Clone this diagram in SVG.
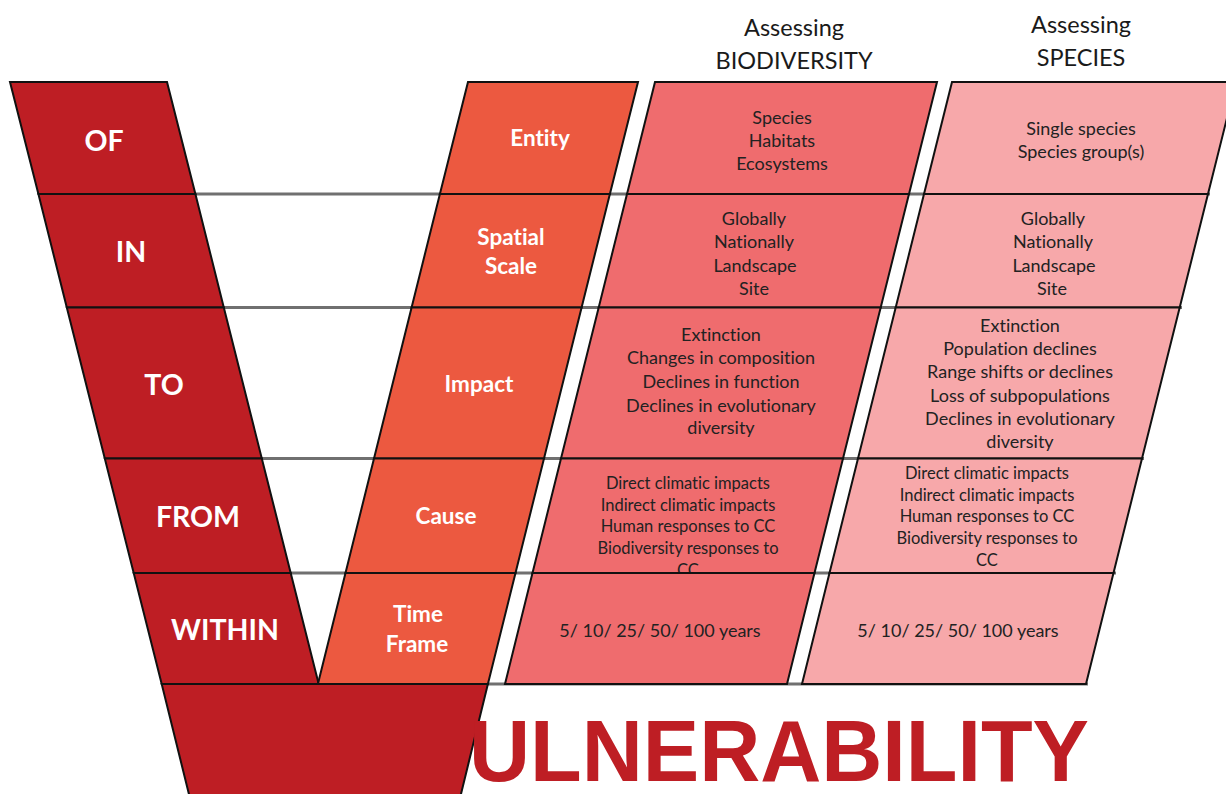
<svg xmlns="http://www.w3.org/2000/svg" width="1226" height="794" viewBox="0 0 1226 794">
<style>
text{font-variant-ligatures:none}
.cell{stroke:#111;stroke-width:2;stroke-linejoin:miter}
.dk{fill:#BE1E24}.or{fill:#EC5940}.bio{fill:#EF6C6E}.sp{fill:#F7A8AA}
.conn{stroke:#707070;stroke-width:3;fill:none}
.big{font-family:Lato,"Open Sans",sans-serif;font-weight:700;font-size:28.5px;fill:#fff;text-anchor:middle}
.mid{font-family:Lato,"Open Sans",sans-serif;font-weight:700;font-size:22.5px;fill:#fff;text-anchor:middle}
.hd{font-family:Lato,"Open Sans",sans-serif;font-size:23.5px;fill:#1a1a1a;text-anchor:middle}
.tx{font-family:Lato,"Open Sans",sans-serif;font-size:18px;fill:#222;text-anchor:middle}
.sm{font-family:Lato,"Open Sans",sans-serif;font-size:16.5px;fill:#222;text-anchor:middle}
.vul{font-family:"Liberation Sans",Arial,sans-serif;font-weight:700;font-size:88px;fill:#BE1E24}
</style>
<defs>
<clipPath id="clipBioCause"><polygon points="560.9,458.5 842.9,458.5 814.5,573 532.5,573"/></clipPath>
</defs>
<rect width="1226" height="794" fill="#fff"/>
<g id="connectors">
<line class="conn" x1="190" y1="194" x2="1210" y2="194"/>
<line class="conn" x1="220" y1="307.5" x2="1182" y2="307.5"/>
<line class="conn" x1="260" y1="458.5" x2="1144" y2="458.5"/>
<line class="conn" x1="288" y1="573" x2="1116" y2="573"/>
<line class="conn" x1="480" y1="684" x2="1088" y2="684"/>
</g>
<g id="v-base">
<polygon class="cell dk" points="161.7,684 487.9,684 460.5,796 189.4,796"/>
</g>
<g id="col-left">
<g id="of"><polygon class="cell dk" points="10,82 167,82 195.4,194 38.4,194"/><text class="big" x="104" y="151">OF</text></g>
<g id="in"><polygon class="cell dk" points="38.4,194 195.4,194 223.8,307.5 66.8,307.5"/><text class="big" x="131" y="262">IN</text></g>
<g id="to"><polygon class="cell dk" points="66.8,307.5 223.8,307.5 261.8,458.5 104.8,458.5"/><text class="big" x="164" y="395">TO</text></g>
<g id="from"><polygon class="cell dk" points="104.8,458.5 261.8,458.5 290.7,573 133.7,573"/><text class="big" x="198" y="527">FROM</text></g>
<g id="within"><polygon class="cell dk" points="133.7,573 290.7,573 318.7,684 161.7,684"/><text class="big" x="225" y="640">WITHIN</text></g>
</g>
<g id="col-criteria">
<g id="entity"><polygon class="cell or" points="468,82 638,82 609.9,194 439.9,194"/><text class="mid" x="540" y="146">Entity</text></g>
<g id="spatial"><polygon class="cell or" points="439.9,194 609.9,194 581.6,307.5 411.6,307.5"/><text class="mid" x="511" y="245">Spatial</text><text class="mid" x="511" y="274">Scale</text></g>
<g id="impact"><polygon class="cell or" points="411.6,307.5 581.6,307.5 544,458.5 374,458.5"/><text class="mid" x="479" y="392">Impact</text></g>
<g id="cause"><polygon class="cell or" points="374,458.5 544,458.5 515.5,573 345.5,573"/><text class="mid" x="446" y="524">Cause</text></g>
<g id="timeframe"><polygon class="cell or" points="345.5,573 515.5,573 487.9,684 317.9,684"/><text class="mid" x="418" y="622">Time</text><text class="mid" x="417" y="652">Frame</text></g>
</g>
<g id="col-biodiversity">
<g id="bio-header"><text class="hd" x="794" y="36">Assessing</text><text class="hd" x="794" y="69">BIODIVERSITY</text></g>
<g id="bio-entity"><polygon class="cell bio" points="655,82 937,82 909,194 627,194"/>
<text class="tx" x="782" y="124">Species</text><text class="tx" x="782" y="147">Habitats</text><text class="tx" x="782" y="170">Ecosystems</text></g>
<g id="bio-spatial"><polygon class="cell bio" points="627,194 909,194 880.7,307.5 598.7,307.5"/>
<text class="tx" x="754" y="225">Globally</text><text class="tx" x="754" y="248">Nationally</text><text class="tx" x="755" y="272">Landscape</text><text class="tx" x="754" y="295">Site</text></g>
<g id="bio-impact"><polygon class="cell bio" points="598.7,307.5 880.7,307.5 843,458.5 561,458.5"/>
<text class="tx" x="721" y="341">Extinction</text><text class="tx" x="721" y="364">Changes in composition</text><text class="tx" x="721" y="388">Declines in function</text><text class="tx" x="721" y="412">Declines in evolutionary</text><text class="tx" x="721" y="434">diversity</text></g>
<g id="bio-cause"><polygon class="cell bio" points="561,458.5 843,458.5 814.5,573 532.5,573"/>
<g clip-path="url(#clipBioCause)"><text class="sm" x="688" y="489">Direct climatic impacts</text><text class="sm" x="688" y="511">Indirect climatic impacts</text><text class="sm" x="688" y="532">Human responses to CC</text><text class="sm" x="688" y="554">Biodiversity responses to</text><text class="sm" x="688" y="576">CC</text></g></g>
<g id="bio-time"><polygon class="cell bio" points="532.5,573 814.5,573 787,684 505,684"/>
<text class="tx" x="660" y="637">5/ 10/ 25/ 50/ 100 years</text></g>
</g>
<g id="col-species">
<g id="sp-header"><text class="hd" x="1081" y="33">Assessing</text><text class="hd" x="1081" y="66">SPECIES</text></g>
<g id="sp-entity"><polygon class="cell sp" points="952,82 1236,82 1208,194 924,194"/>
<text class="tx" x="1081" y="135">Single species</text><text class="tx" x="1081" y="158">Species group(s)</text></g>
<g id="sp-spatial"><polygon class="cell sp" points="924,194 1208,194 1179.7,307.5 895.7,307.5"/>
<text class="tx" x="1053" y="225">Globally</text><text class="tx" x="1053" y="248">Nationally</text><text class="tx" x="1054" y="272">Landscape</text><text class="tx" x="1052" y="295">Site</text></g>
<g id="sp-impact"><polygon class="cell sp" points="895.7,307.5 1179.7,307.5 1142,458.5 858,458.5"/>
<text class="tx" x="1020" y="332">Extinction</text><text class="tx" x="1020" y="355">Population declines</text><text class="tx" x="1020" y="378">Range shifts or declines</text><text class="tx" x="1020" y="402">Loss of subpopulations</text><text class="tx" x="1020" y="425">Declines in evolutionary</text><text class="tx" x="1020" y="448">diversity</text></g>
<g id="sp-cause"><polygon class="cell sp" points="858,458.5 1142,458.5 1113.5,573 829.5,573"/>
<text class="sm" x="987" y="479">Direct climatic impacts</text><text class="sm" x="987" y="501">Indirect climatic impacts</text><text class="sm" x="987" y="522">Human responses to CC</text><text class="sm" x="987" y="544">Biodiversity responses to</text><text class="sm" x="987" y="566">CC</text></g>
<g id="sp-time"><polygon class="cell sp" points="829.5,573 1113.5,573 1086,684 802,684"/>
<text class="tx" x="958" y="637">5/ 10/ 25/ 50/ 100 years</text></g>
</g>
<g id="title"><text class="vul" x="469" y="781" textLength="620" lengthAdjust="spacingAndGlyphs">ULNERABILITY</text></g>
</svg>
